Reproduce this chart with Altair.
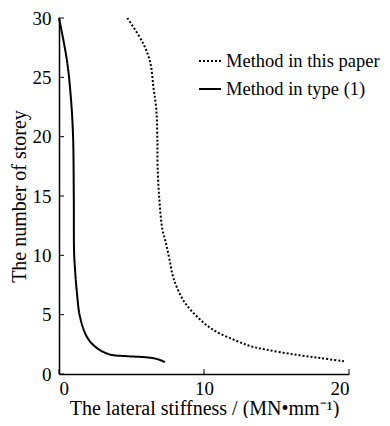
import altair as alt
import pandas as pd

# Data
series_names = ["Method in this paper", "Method in type (1)"]

paper_x = [4.71, 5.81, 6.30, 6.51, 6.71, 6.78, 6.80, 6.92, 7.13, 7.40, 7.61, 7.89, 8.58, 9.55, 10.66, 12.04, 13.2, 14.3, 16.2, 18.0, 19.65]
paper_y = [30.0, 27.85, 26.2, 24.2, 22.3, 20.0, 17.5, 14.7, 12.2, 10.9, 9.7, 8.1, 6.2, 4.8, 3.7, 2.9, 2.35, 2.05, 1.65, 1.35, 1.07]

type1_x = [0.0, 0.55, 0.83, 0.97, 1.02, 1.04, 1.1, 1.24, 1.45, 1.94, 2.6, 3.5, 4.7, 6.1, 6.8, 7.3]
type1_y = [30.0, 26.4, 23.1, 20.0, 15.0, 10.3, 8.9, 6.8, 4.8, 3.1, 2.2, 1.65, 1.5, 1.4, 1.25, 1.0]

x_ticks = [0, 10, 20]
y_ticks = [0, 5, 10, 15, 20, 25, 30]

rows = []
for i, (x, y) in enumerate(zip(paper_x, paper_y)):
    rows.append({"series": series_names[0], "x": x, "y": y, "i": i})
for i, (x, y) in enumerate(zip(type1_x, type1_y)):
    rows.append({"series": series_names[1], "x": x, "y": y, "i": i})
df = pd.DataFrame(rows)

W, H = 290, 356
FONT = "Liberation Serif"

xscale = alt.Scale(domain=[0, 20], nice=False, zero=False)
yscale = alt.Scale(domain=[0, 30], nice=False, zero=False)

axis_style = dict(labelFont=FONT, labelFontSize=19, labelColor="black",
                  titleFont=FONT, titleFontSize=20, titleFontWeight="normal", titleColor="black",
                  domainColor="black", domainWidth=1.5, ticks=False, grid=False)

lines = alt.Chart(df).mark_line(strokeWidth=2, color="black", interpolate="catmull-rom").encode(
    x=alt.X("x:Q", scale=xscale,
            axis=alt.Axis(values=x_ticks, labelPadding=5,
                          title="The lateral stiffness / (MN\u2022mm\u207b\u00b9)", titlePadding=0,
                          **axis_style)),
    y=alt.Y("y:Q", scale=yscale,
            axis=alt.Axis(values=y_ticks, labelPadding=8,
                          title="The number of storey", titlePadding=3, **axis_style)),
    strokeDash=alt.StrokeDash("series:N",
                              scale=alt.Scale(domain=series_names, range=[[2, 2], [1, 0]]),
                              legend=alt.Legend(title=None, orient="none", legendX=139, legendY=31,
                                                symbolType="stroke", symbolSize=484,
                                                symbolStrokeWidth=2, symbolStrokeColor="black",
                                                labelFont=FONT, labelFontSize=18.5, labelColor="black",
                                                labelLimit=0, rowPadding=6, labelOffset=4)),
    order="i:Q",
)

xt = alt.Chart(pd.DataFrame({"v": x_ticks})).mark_rule(color="black", strokeWidth=1).encode(
    x=alt.X("v:Q", scale=xscale), y=alt.value(H), y2=alt.value(H - 5))
yt = alt.Chart(pd.DataFrame({"v": y_ticks})).mark_rule(color="black", strokeWidth=1).encode(
    y=alt.Y("v:Q", scale=yscale), x=alt.value(0), x2=alt.value(5))

chart = alt.layer(lines, xt, yt).properties(
    width=W, height=H,
    autosize=alt.AutoSizeParams(type="none"),
    padding={"left": 51, "top": 10, "right": 33, "bottom": 44},
).configure_view(stroke=None)

chart.save("out.html", embed_options={"renderer": "svg", "actions": False})
